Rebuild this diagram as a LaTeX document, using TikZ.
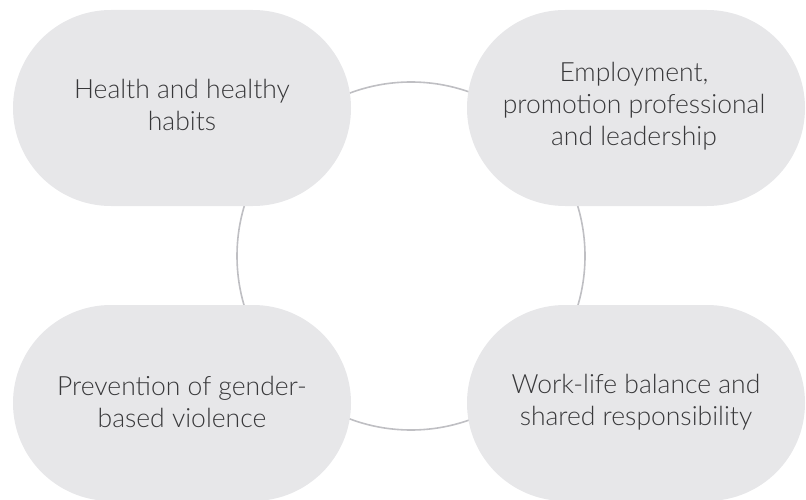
\documentclass[tikz,border=0pt]{standalone}
\usepackage{fontspec}
\setmainfont{Lato Light}
\definecolor{pill}{HTML}{E7E7E9}
\definecolor{ringc}{HTML}{BFBFC3}
\definecolor{txt}{HTML}{38383A}
\begin{document}
\begin{tikzpicture}[x=1pt,y=-1pt,
  pillbox/.style={fill=pill, draw=none, rectangle, rounded corners=97.9pt,
    minimum width=338pt, minimum height=196pt, inner sep=0pt},
  pilltext/.style={align=center, text=txt, inner sep=0pt, font=\fontsize{26.5}{32}\selectfont},
  ringbox/.style={circle, draw=ringc, line width=1.6pt, minimum size=348pt, inner sep=0pt}]
\useasboundingbox (0,0) rectangle (806,500);
\node[ringbox] (ring) at (411,256) {};
\node[pillbox] (health) at (182,108) {};
\node[pillbox] (employ) at (636,108) {};
\node[pillbox] (violence) at (182,403) {};
\node[pillbox] (balance) at (636,403) {};
\node[pilltext] (healthT) at (182,105) {Health and healthy\\habits};
\node[pilltext] (employT) at (634,106) {Employment,\\promotion professional\\and leadership};
\node[pilltext] (violenceT) at (182,402) {Prevention of gender-\\based violence};
\node[pilltext] (balanceT) at (636,402) {Work-life balance and\\shared responsibility};
\end{tikzpicture}
\end{document}
